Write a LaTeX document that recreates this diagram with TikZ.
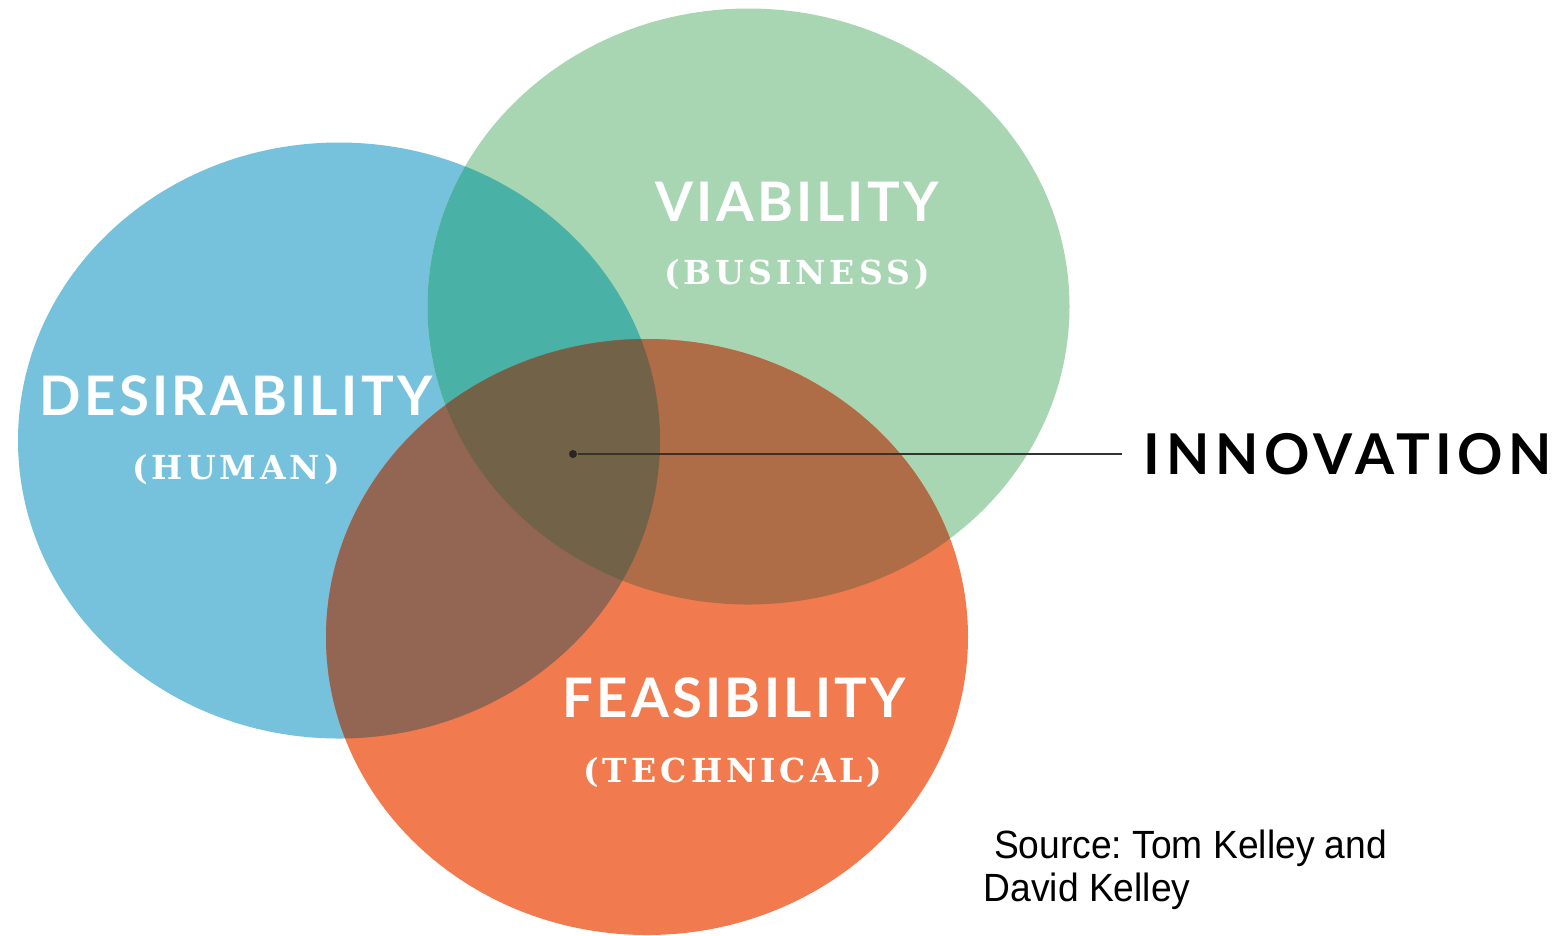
\documentclass[tikz,border=0pt]{standalone}
\usepackage{fontspec}
\usetikzlibrary{positioning}
\setmainfont{Liberation Sans}
\newfontfamily\headfont[LetterSpace=6]{Lato}
\newfontfamily\calloutfont[LetterSpace=10]{Lato}
\newfontfamily\subfont[LetterSpace=12]{DejaVu Serif}
\newfontfamily\sourcefont[FakeStretch=0.945]{Liberation Sans}
\frenchspacing
\definecolor{humanblue}{HTML}{76C2DC}
\definecolor{businessgreen}{HTML}{A8D6B2}
\definecolor{techorange}{HTML}{F27A4F}
\definecolor{humanbusiness}{HTML}{4AB1A6}
\definecolor{humantech}{HTML}{936653}
\definecolor{businesstech}{HTML}{AE6D47}
\definecolor{allthree}{HTML}{716248}
\tikzset{
  title/.style = {
    text=white, inner sep=0pt, font=\headfont\bfseries\fontsize{15.5}{18}\selectfont
  },
  subtitle/.style = {
    text=white, inner sep=0pt, font=\subfont\bfseries\fontsize{9.4}{11}\selectfont
  },
  callout/.style = {
    draw=black!80, line width=0.45pt
  }
}

\begin{document}
\begin{tikzpicture}[x=0.01cm, y=-0.01cm]
  \useasboundingbox (0,0) rectangle (1557,935);

  % The three circles
  \fill[humanblue] (339,440.5) ellipse [x radius=321, y radius=298];
  \fill[businessgreen] (748.5,306.5) ellipse [x radius=321, y radius=298];
  \fill[techorange] (647,637) ellipse [x radius=321, y radius=298];

  % Overlaps with the human circle
  \begin{scope}
    \clip (339,440.5) ellipse [x radius=321, y radius=298];
    \fill[humanbusiness] (748.5,306.5) ellipse [x radius=321, y radius=298];
    \fill[humantech] (647,637) ellipse [x radius=321, y radius=298];
  \end{scope}

  % Overlap business / technical
  \begin{scope}
    \clip (748.5,306.5) ellipse [x radius=321, y radius=298];
    \fill[businesstech] (647,637) ellipse [x radius=321, y radius=298];
  \end{scope}

  % Centre, all three
  \begin{scope}
    \clip (339,440.5) ellipse [x radius=321, y radius=298];
    \clip (748.5,306.5) ellipse [x radius=321, y radius=298];
    \fill[allthree] (647,637) ellipse [x radius=321, y radius=298];
  \end{scope}

  % Labels
  \node[title] (viability) at (797,202) {VIABILITY};
  \node[subtitle] (business) at (797,274) {(BUSINESS)};
  \node[title] (desirability) at (236,396) {DESIRABILITY};
  \node[subtitle] (human) at (236,469) {(HUMAN)};
  \node[title] (feasibility) at (734,698) {FEASIBILITY};
  \node[subtitle] (technical) at (733,772) {(TECHNICAL)};

  % Innovation callout
  \node[circle, fill=black!85, inner sep=0pt, minimum size=0.8mm] (core) at (573,454) {};
  \node[anchor=west, inner sep=0pt, inner xsep=2.1mm,
        font=\calloutfont\bfseries\fontsize{16}{19}\selectfont] (innovation) at (1122,454) {INNOVATION};
  \draw[callout] (core) -- (innovation.west);

  % Source
  \node[anchor=base west, inner sep=0pt, align=left,
        font=\sourcefont\fontsize{11.2}{12.2}\selectfont] (source) at (983,901)
        {\ Source: Tom Kelley and\\David Kelley};
\end{tikzpicture}
\end{document}
